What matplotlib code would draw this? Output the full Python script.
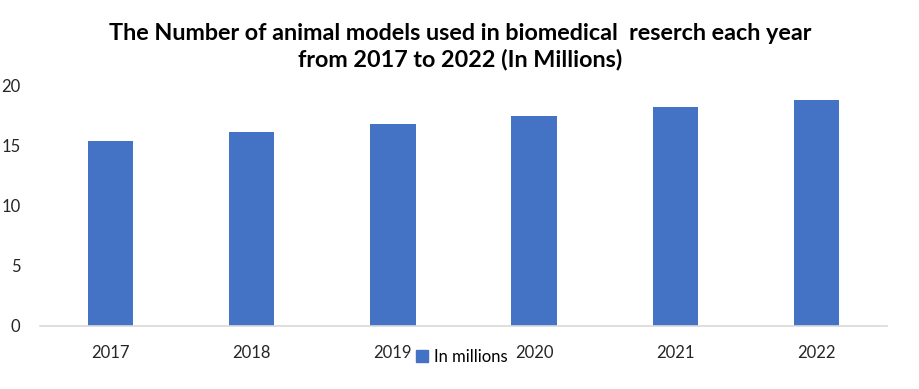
import numpy as np
import matplotlib
matplotlib.use("Agg")
import matplotlib.pyplot as plt
from matplotlib.patches import Patch

years = ["2017", "2018", "2019", "2020", "2021", "2022"]
in_millions = [15.4, 16.15, 16.8, 17.5, 18.25, 18.8]
series_name = "In millions"
title = "The Number of animal models used in biomedical  reserch each year\nfrom 2017 to 2022 (In Millions)"

plt.rcParams['font.family'] = ['Lato', 'DejaVu Sans']

fig = plt.figure(figsize=(9.2, 3.89), dpi=100)
ax = fig.add_axes([40 / 920, 1 - 326 / 389, 847 / 920, 240 / 389])

x = np.arange(len(years))
ax.bar(x, in_millions, width=0.32, color="#4472C4", zorder=2)

ax.set_xlim(-0.5, len(years) - 0.5)
ax.set_ylim(0, 20)
ax.set_yticks([0, 5, 10, 15, 20])
ax.set_xticks(x)
ax.set_xticklabels(years)
ax.tick_params(axis="both", length=0, labelsize=12, colors="#262626")
ax.tick_params(axis="x", pad=14)
ax.tick_params(axis="y", pad=14)

for s in ["top", "right", "left"]:
    ax.spines[s].set_visible(False)
ax.spines["bottom"].set_color("#d9d9d9")
ax.spines["bottom"].set_linewidth(1.2)

fig.text(0.5, 1 - 47 / 389, title, ha="center", va="center",
         fontsize=16.8, fontweight="bold", linespacing=1.25)

fig.legend(handles=[Patch(color="#4472C4")], labels=[series_name],
           loc="center", bbox_to_anchor=(462 / 920, 1 - 357 / 389),
           frameon=False, fontsize=12, handlelength=0.7, handleheight=0.7,
           handletextpad=0.4, borderpad=0)

fig.savefig("out.png", dpi=100)
